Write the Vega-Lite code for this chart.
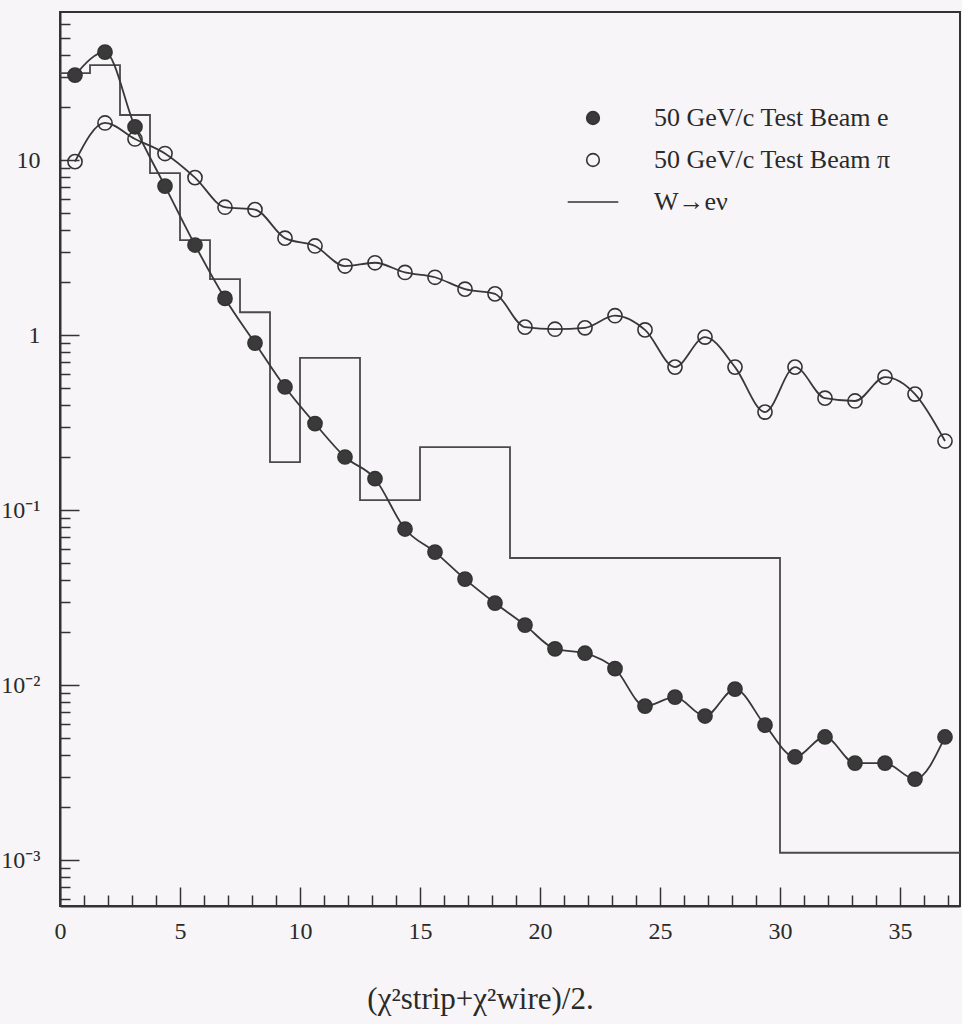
{
  "$schema": "https://vega.github.io/schema/vega-lite/v6.json",
  "width": 900,
  "height": 894,
  "autosize": {"type": "none"},
  "padding": {"left": 60, "top": 12, "right": 2, "bottom": 118},
  "background": "#f7f5f7",
  "config": {
    "font": "Liberation Serif",
    "view": {"stroke": "#333333", "strokeWidth": 2},
    "axis": {
      "grid": false,
      "labelFont": "Liberation Serif",
      "labelFontSize": 24,
      "labelColor": "#2a2a2a",
      "tickColor": "#333333",
      "domainColor": "#333333",
      "domainWidth": 2,
      "tickWidth": 1.5,
      "labelFlush": false,
      "labelOverlap": false
    },
    "legend": {
      "labelFont": "Liberation Serif",
      "labelFontSize": 26,
      "labelColor": "#2a2a2a",
      "labelLimit": 0
    }
  },
  "datasets": {
    "beams": [
      {"series": "50 GeV/c Test Beam e", "x": 0.625, "y": 30.6},
      {"series": "50 GeV/c Test Beam e", "x": 1.875, "y": 41.4},
      {"series": "50 GeV/c Test Beam e", "x": 3.125, "y": 15.5},
      {"series": "50 GeV/c Test Beam e", "x": 4.375, "y": 7.1},
      {"series": "50 GeV/c Test Beam e", "x": 5.625, "y": 3.27},
      {"series": "50 GeV/c Test Beam e", "x": 6.875, "y": 1.62},
      {"series": "50 GeV/c Test Beam e", "x": 8.125, "y": 0.9},
      {"series": "50 GeV/c Test Beam e", "x": 9.375, "y": 0.505},
      {"series": "50 GeV/c Test Beam e", "x": 10.625, "y": 0.312},
      {"series": "50 GeV/c Test Beam e", "x": 11.875, "y": 0.201},
      {"series": "50 GeV/c Test Beam e", "x": 13.125, "y": 0.151},
      {"series": "50 GeV/c Test Beam e", "x": 14.375, "y": 0.0779},
      {"series": "50 GeV/c Test Beam e", "x": 15.625, "y": 0.0575},
      {"series": "50 GeV/c Test Beam e", "x": 16.875, "y": 0.0403},
      {"series": "50 GeV/c Test Beam e", "x": 18.125, "y": 0.0294},
      {"series": "50 GeV/c Test Beam e", "x": 19.375, "y": 0.022},
      {"series": "50 GeV/c Test Beam e", "x": 20.625, "y": 0.0161},
      {"series": "50 GeV/c Test Beam e", "x": 21.875, "y": 0.0152},
      {"series": "50 GeV/c Test Beam e", "x": 23.125, "y": 0.0124},
      {"series": "50 GeV/c Test Beam e", "x": 24.375, "y": 0.00758},
      {"series": "50 GeV/c Test Beam e", "x": 25.625, "y": 0.00853},
      {"series": "50 GeV/c Test Beam e", "x": 26.875, "y": 0.00665},
      {"series": "50 GeV/c Test Beam e", "x": 28.125, "y": 0.00948},
      {"series": "50 GeV/c Test Beam e", "x": 29.375, "y": 0.0059},
      {"series": "50 GeV/c Test Beam e", "x": 30.625, "y": 0.00388},
      {"series": "50 GeV/c Test Beam e", "x": 31.875, "y": 0.00505},
      {"series": "50 GeV/c Test Beam e", "x": 33.125, "y": 0.00358},
      {"series": "50 GeV/c Test Beam e", "x": 34.375, "y": 0.00358},
      {"series": "50 GeV/c Test Beam e", "x": 35.625, "y": 0.0029},
      {"series": "50 GeV/c Test Beam e", "x": 36.875, "y": 0.00505},
      {"series": "50 GeV/c Test Beam π", "x": 0.625, "y": 9.8},
      {"series": "50 GeV/c Test Beam π", "x": 1.875, "y": 16.3},
      {"series": "50 GeV/c Test Beam π", "x": 3.125, "y": 13.2},
      {"series": "50 GeV/c Test Beam π", "x": 4.375, "y": 10.9},
      {"series": "50 GeV/c Test Beam π", "x": 5.625, "y": 7.94},
      {"series": "50 GeV/c Test Beam π", "x": 6.875, "y": 5.38},
      {"series": "50 GeV/c Test Beam π", "x": 8.125, "y": 5.21},
      {"series": "50 GeV/c Test Beam π", "x": 9.375, "y": 3.58},
      {"series": "50 GeV/c Test Beam π", "x": 10.625, "y": 3.23},
      {"series": "50 GeV/c Test Beam π", "x": 11.875, "y": 2.48},
      {"series": "50 GeV/c Test Beam π", "x": 13.125, "y": 2.59},
      {"series": "50 GeV/c Test Beam π", "x": 14.375, "y": 2.28},
      {"series": "50 GeV/c Test Beam π", "x": 15.625, "y": 2.14},
      {"series": "50 GeV/c Test Beam π", "x": 16.875, "y": 1.83},
      {"series": "50 GeV/c Test Beam π", "x": 18.125, "y": 1.72},
      {"series": "50 GeV/c Test Beam π", "x": 19.375, "y": 1.11},
      {"series": "50 GeV/c Test Beam π", "x": 20.625, "y": 1.08},
      {"series": "50 GeV/c Test Beam π", "x": 21.875, "y": 1.1},
      {"series": "50 GeV/c Test Beam π", "x": 23.125, "y": 1.29},
      {"series": "50 GeV/c Test Beam π", "x": 24.375, "y": 1.07},
      {"series": "50 GeV/c Test Beam π", "x": 25.625, "y": 0.656},
      {"series": "50 GeV/c Test Beam π", "x": 26.875, "y": 0.974},
      {"series": "50 GeV/c Test Beam π", "x": 28.125, "y": 0.656},
      {"series": "50 GeV/c Test Beam π", "x": 29.375, "y": 0.363},
      {"series": "50 GeV/c Test Beam π", "x": 30.625, "y": 0.656},
      {"series": "50 GeV/c Test Beam π", "x": 31.875, "y": 0.436},
      {"series": "50 GeV/c Test Beam π", "x": 33.125, "y": 0.42},
      {"series": "50 GeV/c Test Beam π", "x": 34.375, "y": 0.575},
      {"series": "50 GeV/c Test Beam π", "x": 35.625, "y": 0.46},
      {"series": "50 GeV/c Test Beam π", "x": 36.875, "y": 0.248}
    ],
    "wenu": [
      {"x": 0, "y": 31.4},
      {"x": 1.25, "y": 34.9},
      {"x": 2.5, "y": 18.1},
      {"x": 3.75, "y": 8.43},
      {"x": 5, "y": 3.49},
      {"x": 6.25, "y": 2.09},
      {"x": 7.5, "y": 1.35},
      {"x": 8.75, "y": 0.188},
      {"x": 10, "y": 0.74},
      {"x": 12.5, "y": 0.114},
      {"x": 15, "y": 0.229},
      {"x": 18.75, "y": 0.0532},
      {"x": 30, "y": 0.0011},
      {"x": 37.5, "y": 0.0011}
    ]
  },
  "layer": [
    {
      "data": {"name": "wenu"},
      "mark": {"type": "line", "interpolate": "step-after", "color": "#4a4a4a", "strokeWidth": 1.8},
      "encoding": {
        "x": {
          "field": "x", "type": "quantitative",
          "scale": {"domain": [0, 37.5], "nice": false, "zero": false},
          "axis": {
            "orient": "bottom",
            "values": [0, 5, 10, 15, 20, 25, 30, 35],
            "tickSize": -19,
            "labelPadding": 32,
            "title": "(χ²strip+χ²wire)/2.",
            "titleFont": "Liberation Serif",
            "titleFontSize": 31,
            "titleFontWeight": "normal",
            "titleColor": "#2a2a2a",
            "titleX": 420,
            "titleY": 78
          }
        },
        "y": {
          "field": "y", "type": "quantitative",
          "scale": {"type": "log", "domain": [0.000546, 70.2], "nice": false},
          "axis": {
            "orient": "left",
            "values": [0.001, 0.01, 0.1, 1, 10],
            "tickSize": -19,
            "labelPadding": 39,
            "labelExpr": "round(log(datum.value)/LN10) == 1 ? '10' : round(log(datum.value)/LN10) == 0 ? '1' : round(log(datum.value)/LN10) == -1 ? '10⁻¹' : round(log(datum.value)/LN10) == -2 ? '10⁻²' : '10⁻³'",
            "title": null
          }
        }
      }
    },
    {
      "data": {"name": "beams"},
      "mark": {"type": "line", "interpolate": "monotone", "color": "#383838", "strokeWidth": 1.8},
      "encoding": {
        "x": {
          "field": "x", "type": "quantitative",
          "axis": {
            "orient": "bottom",
            "values": [1, 2, 3, 4, 6, 7, 8, 9, 11, 12, 13, 14, 16, 17, 18, 19, 21, 22, 23, 24, 26, 27, 28, 29, 31, 32, 33, 34, 36, 37],
            "tickSize": -11,
            "labels": false,
            "domain": false,
            "title": null
          }
        },
        "y": {
          "field": "y", "type": "quantitative",
          "axis": {
            "orient": "left",
            "values": [0.0006, 0.0007, 0.0008, 0.0009, 0.002, 0.003, 0.004, 0.005, 0.006, 0.007, 0.008, 0.009, 0.02, 0.03, 0.04, 0.05, 0.06, 0.07, 0.08, 0.09, 0.2, 0.3, 0.4, 0.5, 0.6, 0.7, 0.8, 0.9, 2, 3, 4, 5, 6, 7, 8, 9, 20, 30, 40, 50, 60],
            "tickSize": -10,
            "labels": false,
            "domain": false,
            "title": null
          }
        },
        "detail": {"field": "series", "type": "nominal"}
      }
    },
    {
      "data": {"name": "beams"},
      "mark": {"type": "point", "filled": true, "size": 200, "strokeWidth": 1.6, "opacity": 1},
      "encoding": {
        "x": {"field": "x", "type": "quantitative", "axis": null},
        "y": {"field": "y", "type": "quantitative", "axis": null},
        "shape": {
          "field": "series", "type": "nominal",
          "scale": {
            "domain": ["50 GeV/c Test Beam e", "50 GeV/c Test Beam π", "W→eν"],
            "range": ["circle", "circle", "M-4,0L4,0"]
          },
          "legend": {
            "title": null, "orient": "none", "legendX": 520, "legendY": 93,
            "symbolSize": 160, "symbolStrokeWidth": 1.6,
            "labelOffset": 48, "rowPadding": 16, "padding": 0
          }
        },
        "fill": {
          "field": "series", "type": "nominal",
          "scale": {
            "domain": ["50 GeV/c Test Beam e", "50 GeV/c Test Beam π", "W→eν"],
            "range": ["#3a3a3a", "transparent", "transparent"]
          },
          "legend": {
            "title": null, "orient": "none", "legendX": 520, "legendY": 93,
            "symbolSize": 160, "symbolStrokeWidth": 1.6,
            "labelOffset": 48, "rowPadding": 16, "padding": 0
          }
        },
        "stroke": {
          "field": "series", "type": "nominal",
          "scale": {
            "domain": ["50 GeV/c Test Beam e", "50 GeV/c Test Beam π", "W→eν"],
            "range": ["#333333", "#333333", "#333333"]
          },
          "legend": {
            "title": null, "orient": "none", "legendX": 520, "legendY": 93,
            "symbolSize": 160, "symbolStrokeWidth": 1.6,
            "labelOffset": 48, "rowPadding": 16, "padding": 0
          }
        }
      }
    }
  ],
  "resolve": {"axis": {"x": "independent", "y": "independent"}}
}
